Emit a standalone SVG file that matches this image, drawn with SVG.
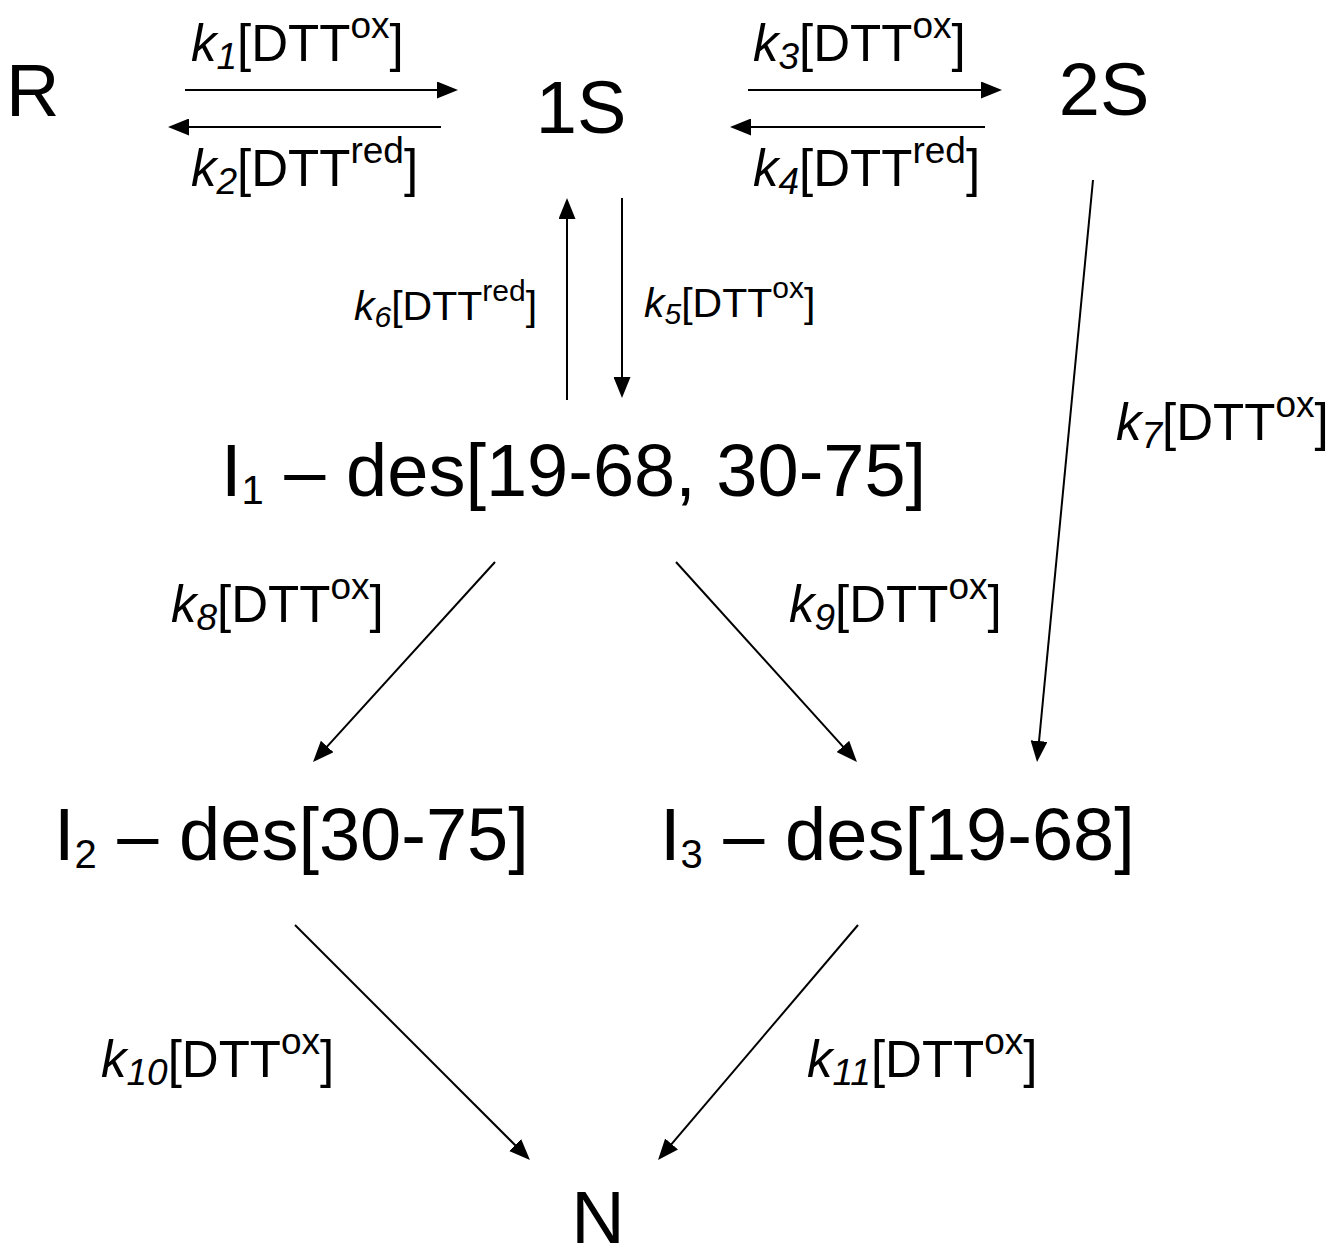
<svg xmlns="http://www.w3.org/2000/svg" width="1334" height="1259" viewBox="0 0 1334 1259">
  <style>
    text { font-family: "Liberation Sans", Arial, Helvetica, sans-serif; fill: #000; }
    .node { font-size: 74px; }
    .nsub { font-size: 40px; }
    .lbl { font-size: 51px; }
    .lbl .sub { font-size: 37px; }
    .lbl .sup { font-size: 37px; }
    .sm { font-size: 41px; }
    .sm .sub { font-size: 30px; }
    .sm .sup { font-size: 30px; }
    .it { font-style: italic; }
    .conn path { fill: none; stroke: #000; stroke-width: 2; marker-end: url(#head); }
  </style>
  <defs>
    <marker id="head" viewBox="0 0 21 17" refX="13" refY="8.5" markerWidth="21" markerHeight="17" markerUnits="userSpaceOnUse" orient="auto">
      <path d="M0,0 L21,8.5 L0,17 z" fill="#000"/>
    </marker>
  </defs>

  <!-- species -->
  <g id="node-R"><text class="node" x="6" y="116">R</text></g>
  <g id="node-1S"><text class="node" x="581" y="133" text-anchor="middle">1S</text></g>
  <g id="node-2S"><text class="node" x="1104" y="115" text-anchor="middle">2S</text></g>
  <g id="node-I1"><text class="node" x="221" y="496">I<tspan class="nsub" dy="8">1</tspan><tspan dy="-8"> – des[19-68, 30-75]</tspan></text></g>
  <g id="node-I2"><text class="node" x="54" y="860">I<tspan class="nsub" dy="8">2</tspan><tspan dy="-8"> – des[30-75]</tspan></text></g>
  <g id="node-I3"><text class="node" x="660" y="860">I<tspan class="nsub" dy="8">3</tspan><tspan dy="-8"> – des[19-68]</tspan></text></g>
  <g id="node-N"><text class="node" x="598" y="1243" text-anchor="middle">N</text></g>

  <!-- reaction arrows -->
  <g class="conn">
    <path d="M185,90 H450"/>
    <path d="M441,127 H176"/>
    <path d="M748,90 H994"/>
    <path d="M985,127 H738"/>
    <path d="M567,400 V206"/>
    <path d="M622,198 V390"/>
    <path d="M1093,180 L1037.8,754"/>
    <path d="M495,562 L318.4,756.1"/>
    <path d="M676,562 L851.6,756.1"/>
    <path d="M295,925 L524.3,1154.3"/>
    <path d="M858,925 L663.2,1153.9"/>
  </g>

  <!-- rate labels -->
  <g id="labels">
    <text class="lbl" x="191" y="61"><tspan class="it">k</tspan><tspan class="it sub" dy="8">1</tspan><tspan dy="-8">[DTT</tspan><tspan class="sup" dy="-23">ox</tspan><tspan dy="23">]</tspan></text>
    <text class="lbl" x="191" y="186"><tspan class="it">k</tspan><tspan class="it sub" dy="8">2</tspan><tspan dy="-8">[DTT</tspan><tspan class="sup" dy="-23">red</tspan><tspan dy="23">]</tspan></text>
    <text class="lbl" x="753" y="61"><tspan class="it">k</tspan><tspan class="it sub" dy="8">3</tspan><tspan dy="-8">[DTT</tspan><tspan class="sup" dy="-23">ox</tspan><tspan dy="23">]</tspan></text>
    <text class="lbl" x="753" y="186"><tspan class="it">k</tspan><tspan class="it sub" dy="8">4</tspan><tspan dy="-8">[DTT</tspan><tspan class="sup" dy="-23">red</tspan><tspan dy="23">]</tspan></text>
    <text class="sm" x="354" y="320"><tspan class="it">k</tspan><tspan class="it sub" dy="7">6</tspan><tspan dy="-7">[DTT</tspan><tspan class="sup" dy="-19">red</tspan><tspan dy="19">]</tspan></text>
    <text class="sm" x="644" y="317"><tspan class="it">k</tspan><tspan class="it sub" dy="7">5</tspan><tspan dy="-7">[DTT</tspan><tspan class="sup" dy="-19">ox</tspan><tspan dy="19">]</tspan></text>
    <text class="lbl" x="1116" y="440"><tspan class="it">k</tspan><tspan class="it sub" dy="8">7</tspan><tspan dy="-8">[DTT</tspan><tspan class="sup" dy="-23">ox</tspan><tspan dy="23">]</tspan></text>
    <text class="lbl" x="171" y="622"><tspan class="it">k</tspan><tspan class="it sub" dy="8">8</tspan><tspan dy="-8">[DTT</tspan><tspan class="sup" dy="-23">ox</tspan><tspan dy="23">]</tspan></text>
    <text class="lbl" x="789" y="622"><tspan class="it">k</tspan><tspan class="it sub" dy="8">9</tspan><tspan dy="-8">[DTT</tspan><tspan class="sup" dy="-23">ox</tspan><tspan dy="23">]</tspan></text>
    <text class="lbl" x="101" y="1077"><tspan class="it">k</tspan><tspan class="it sub" dy="8">10</tspan><tspan dy="-8">[DTT</tspan><tspan class="sup" dy="-23">ox</tspan><tspan dy="23">]</tspan></text>
    <text class="lbl" x="807" y="1077"><tspan class="it">k</tspan><tspan class="it sub" dy="8">11</tspan><tspan dy="-8">[DTT</tspan><tspan class="sup" dy="-23">ox</tspan><tspan dy="23">]</tspan></text>
  </g>
</svg>
